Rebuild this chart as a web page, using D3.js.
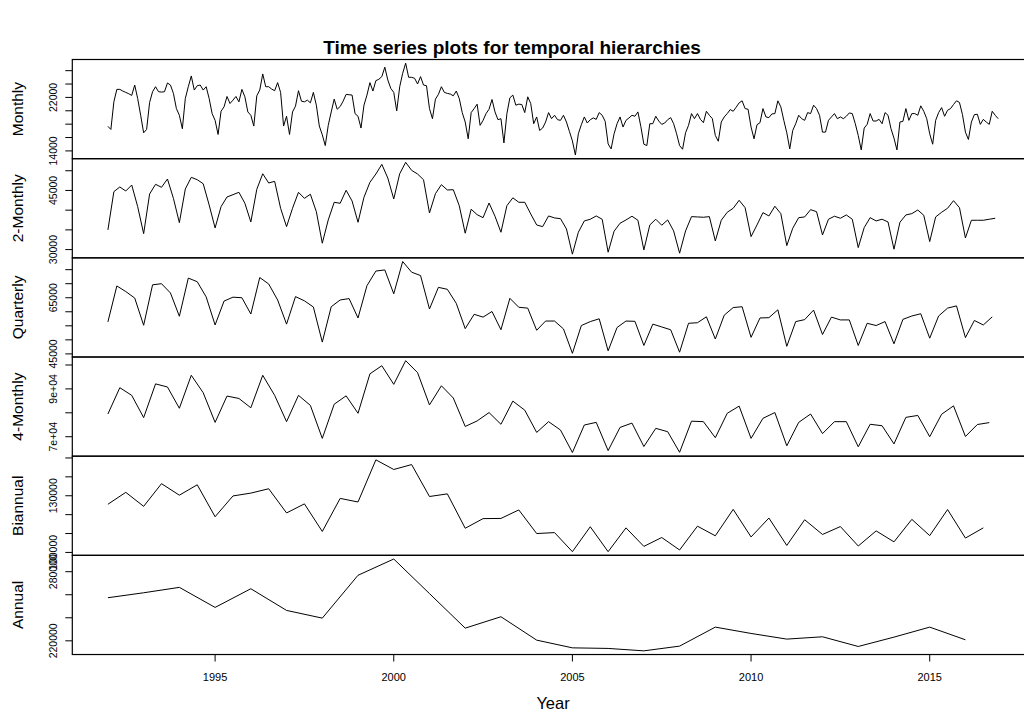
<!DOCTYPE html>
<html><head><meta charset="utf-8">
<script src="https://cdn.jsdelivr.net/npm/d3@7"></script>
<style>
body{margin:0;background:#fff}
svg{display:block}
text{font-family:"Liberation Sans",Arial,Helvetica,sans-serif;fill:#000}
</style>
</head><body><svg id="chart" width="1024" height="713"></svg>
<script>
const startYear = 1992;
const panelNames = ["Monthly","2-Monthly","Quarterly","4-Monthly","Biannual","Annual"];
const frequencies = [12,6,4,3,2,1];

const monthly = [
17670,17210,21340,23200,23200,22950,22750,22550,22300,23850,21840,19330,
16710,17210,21240,22850,23600,22850,22800,22850,24160,23850,22600,20330,
19330,17320,21840,23600,25210,23100,23750,23850,23100,23600,21840,19580,
18570,16460,19930,20590,22140,21090,21590,22140,21340,23200,22090,19830,
19330,17720,22240,23100,25510,23600,23600,23250,23000,24210,22750,17720,
19180,16460,19830,20690,23000,21440,21340,21590,21190,22750,20840,17720,
16410,14800,17820,19830,21740,20230,20640,21440,22450,22400,22350,19580,
19180,17420,20840,22350,24210,22950,24510,24710,25110,26520,24610,23350,
22750,19980,23600,25610,27120,25010,25010,24860,24010,25110,23850,23750,
20330,18820,21740,22450,23600,22750,22600,22500,22240,22950,21840,19730,
18320,15810,19730,20330,20990,17820,18570,19580,20230,21690,19830,18670,
18820,15200,19580,21940,22350,20840,20990,20940,19730,22090,21090,18070,
19080,17060,17420,18320,19730,18820,19330,18670,18570,19330,18320,16910,
15500,13390,16560,17920,19080,18170,18670,18930,18720,19730,19330,18420,
15050,14300,16560,18070,19080,17570,18570,18930,19330,19180,19830,17620,
15000,14800,18070,18070,19180,18470,17970,18170,18670,18980,18070,16560,
14800,14250,16710,17820,19580,18820,19580,18720,18220,19930,19330,18820,
16310,15450,18320,19080,19580,20180,19930,20530,21190,21490,20330,20230,
17570,15810,17920,18220,20330,19080,18980,19530,19580,21490,20590,18570,
16710,14300,17060,18070,19330,18820,18570,19730,19580,20840,20330,19330,
16810,16810,18570,19080,19580,18820,19080,18820,19180,19680,19580,18070,
16310,14150,17420,17970,19580,18470,18470,18720,18070,19730,19330,17320,
15910,14150,18320,18420,20330,18570,19580,19580,19330,20740,19930,18820,
16560,15000,18570,19730,20480,19180,20080,20330,20940,21490,21240,19430,
16810,15710,18320,19430,19480,17970,18720,18320,17970,19930,19330,18820
];

const bimonthly = [
34990,44690,45880,44860,46380,40890, 34050,44100,46560,45800,47900,43000,
36840,45370,48330,47720,46710,41320, 35490,40890,43340,43930,44530,41750,
37010,45290,49240,46890,47320,40480, 35820,40480,44530,43000,44030,39620,
31620,37520,42000,41750,45040,42330, 36930,43270,47070,49170,51620,48150,
42840,49240,52130,50100,49170,47720, 39290,44180,46460,45120,45190,41140,
34150,40230,38860,38100,41820,38460, 34400,41140,43130,42000,42000,39040,
36250,35820,38530,38030,37850,35240, 28840,34400,37270,37700,38530,37700,
29340,34660,36680,37520,38460,37440, 29920,36250,37700,36180,37520,34730,
29090,34730,38360,38280,38200,38360, 32200,37440,39470,40480,42510,40630,
33290,36250,39370,38530,40990,39120, 31010,35420,38100,38280,40130,39620,
33720,37700,38460,37950,38790,37700, 30510,35570,38100,37270,37700,37010,
30100,36930,38790,39120,40050,38710, 32030,38280,39470,40480,42410,40630,
32960,37440,37440,37440,37700,37950
];

const quarterly = [
56400,69200,67200,64900, 55200,69600,70000,66700, 58400,72000,70700,65300,
55300,63800,65200,65000, 59200,72200,69900,64200, 55600,65400,63900,61700,
49200,61800,64200,64700, 57800,69300,74500,74900, 66400,77900,74100,72900,
61000,68700,68000,63000, 54000,59100,58100,60100, 53600,64800,61600,61300,
53400,56700,56700,53900, 45200,55100,56500,57500, 46100,54400,56700,56600,
48000,55600,54600,53600, 45600,55900,56100,58200, 50300,58800,61500,61800,
50900,57800,57900,60700, 47700,56500,57200,60600, 51900,58100,57100,57100,
48000,55900,55100,56500, 48600,57300,58500,59300, 50600,58500,61300,62100,
50800,56900,55300,58200
];

const fourMonthly = [
79500,90500,87300, 78000,92100,90800, 81900,95700,88400, 76000,87000,86000,
82100,95700,87300, 76300,87300,83100, 69300,83600,87100, 79800,96300,99700,
91900,101800,96800, 83300,91300,86200, 74300,76600,80100, 75200,84900,81100,
71800,76300,72800, 63400,74900,76000, 64200,73900,75700, 65900,73500,72100,
63500,76500,76300, 69600,79800,82800, 69300,77700,80100, 66200,76000,79500,
71300,76300,76300, 65800,75200,74600, 67000,78100,78900, 70000,79400,82900,
70100,75100,75900
];

const biannual = [
125500,131800, 124400,136400, 130300,135800, 118900,129900, 131400,133700,
120900,125700, 111100,128600, 126700,149000, 143900,146500, 129600,131000,
112800,117900, 118000,122500, 110000,110500, 100400,113600, 100400,113000,
103200,107900, 101300,113900, 108800,122800, 108200,118200, 103700,117300,
109500,113700, 103400,111400, 105600,117500, 108900,122700, 107600,113000
];

const annual = [
257400,261700,266400,249000,265200,246400,239700,276900,291000,261000,
231000,240900,220600,213900,213400,211300,215400,231900,226400,221500,
223500,215100,223200,231900,220900
];

const seriesList = [monthly, bimonthly, quarterly, fourMonthly, biannual, annual];

const yTicks = [
  [14000,16000,18000,20000,22000,24000,26000],
  [30000,35000,40000,45000,50000],
  [45000,50000,55000,60000,65000,70000,75000],
  [70000,80000,90000,100000],
  [100000,110000,120000,130000,140000,150000],
  [220000,240000,260000,280000]
];
const yLabelTicks = [
  [14000,22000],
  [30000,45000],
  [45000,65000],
  [70000,90000],
  [100000,130000],
  [220000,280000]
];
const yLabelText = [
  ["14000","22000"],
  ["30000","45000"],
  ["45000","65000"],
  ["7e+04","9e+04"],
  ["100000","130000"],
  ["220000","280000"]
];
const xTicks = [1995,2000,2005,2010,2015];

const chartTitle = "Time series plots for temporal hierarchies";
const xTitle = "Year";

// ---- layout
const svg = d3.select("#chart");
const plotLeft = 72.3, plotRight = 1033.8, plotTop = 59.5, panelH = 99.17;

const tStart = startYear, tEnd = startYear + (monthly.length - 1) / 12;
const span = tEnd - tStart;
const x = d3.scaleLinear().domain([tStart - 0.04 * span, tEnd + 0.04 * span]).range([plotLeft, plotRight]);

svg.append("text").attr("x", 512).attr("y", 53.5).attr("text-anchor", "middle")
  .style("font-weight", "bold").style("font-size", "19px").text(chartTitle);

seriesList.forEach((data, k) => {
  const y0 = plotTop + k * panelH, y1 = y0 + panelH;
  const [mn, mx] = d3.extent(data);
  const r = mx - mn;
  const y = d3.scaleLinear().domain([mn - 0.04 * r, mx + 0.04 * r]).range([y1, y0]);
  const g = svg.append("g");
  const f = frequencies[k];
  const line = d3.line().x((d, i) => x(startYear + i / f)).y(d => y(d));
  g.append("path").datum(data).attr("d", line).attr("fill", "none")
    .attr("stroke", "#000").attr("stroke-width", 1);
  g.append("rect").attr("x", plotLeft).attr("y", y0).attr("width", plotRight - plotLeft).attr("height", panelH)
    .attr("fill", "none").attr("stroke", "#000").attr("stroke-width", 1.2);
  g.selectAll("line.tk").data(yTicks[k]).enter().append("line")
    .attr("x1", plotLeft - 7).attr("x2", plotLeft).attr("y1", d => y(d)).attr("y2", d => y(d))
    .attr("stroke", "#000").attr("stroke-width", 1);
  g.selectAll("text.tl").data(yLabelTicks[k]).enter().append("text")
    .attr("transform", d => `translate(57,${y(d)}) rotate(-90)`)
    .attr("text-anchor", "middle").style("font-size", "10.5px")
    .text((d, i) => yLabelText[k][i]);
  svg.append("text").attr("transform", `translate(22.5,${(y0 + y1) / 2}) rotate(-90)`)
    .attr("text-anchor", "middle").style("font-size", "15.5px").text(panelNames[k]);
  if (k === seriesList.length - 1) {
    g.selectAll("line.xt").data(xTicks).enter().append("line")
      .attr("x1", d => x(d)).attr("x2", d => x(d)).attr("y1", y1).attr("y2", y1 + 7)
      .attr("stroke", "#000").attr("stroke-width", 1);
    g.selectAll("text.xl").data(xTicks).enter().append("text")
      .attr("x", d => x(d)).attr("y", y1 + 26.5).attr("text-anchor", "middle")
      .style("font-size", "11px").text(d => d);
    svg.append("text").attr("x", (plotLeft + plotRight) / 2).attr("y", 708.5).attr("text-anchor", "middle")
      .style("font-size", "16.5px").text(xTitle);
  }
});
</script>
</body></html>
